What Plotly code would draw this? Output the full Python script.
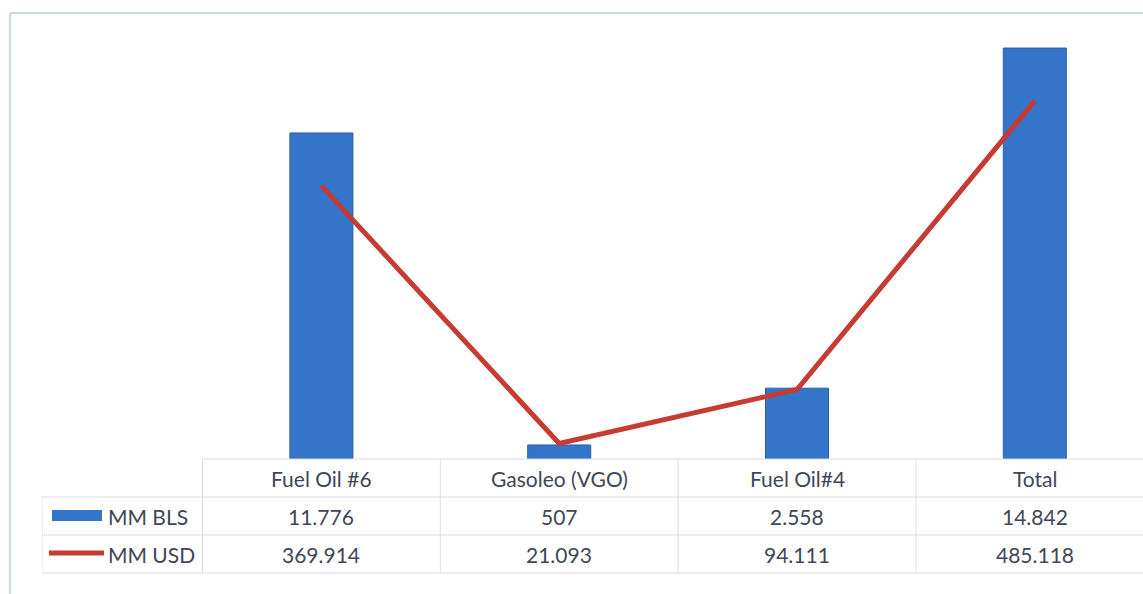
import plotly.graph_objects as go

categories = ["Fuel Oil #6", "Gasoleo (VGO)", "Fuel Oil#4", "Total"]
mm_bls = [11.776, 0.507, 2.558, 14.842]
mm_usd = [369.914, 21.093, 94.111, 485.118]
bls_labels = ["11.776", "507", "2.558", "14.842"]
usd_labels = ["369.914", "21.093", "94.111", "485.118"]
series_names = ["MM BLS", "MM USD"]

W, H = 1143, 594
L, R, T, B = 42, 0, 16, 135
PH = H - T - B  # plot height in px
ZERO_PX = H - B


def py(px):
    """pixel y -> paper y"""
    return (ZERO_PX - px) / PH


def pxx(px):
    return (px - L) / (W - L - R)


BLUE = "#3474c9"
RED = "#c63b33"
GRID = "#d9dde4"
TXT = "#3f4757"
FONT = "Lato"
FS = 21

fig = go.Figure()
fig.add_trace(go.Bar(x=categories, y=mm_bls, name=series_names[0], width=0.265,
                     marker=dict(color=BLUE, line=dict(color="#2a5fae", width=1)),
                     yaxis="y"))
fig.add_trace(go.Scatter(x=categories, y=mm_usd, name=series_names[1], mode="lines",
                         line=dict(color=RED, width=5), yaxis="y2"))

shapes = []
ncat = len(categories)
left_x = -1.175
right_x = ncat - 0.5
shapes.append(dict(type="line", xref="x", yref="paper", x0=-0.5, x1=right_x + 1,
                   y0=py(459), y1=py(459), line=dict(color=GRID, width=1)))
for ypx in (497, 535, 573):
    shapes.append(dict(type="line", xref="x", yref="paper", x0=left_x, x1=right_x + 1,
                       y0=py(ypx), y1=py(ypx), line=dict(color=GRID, width=1)))
shapes.append(dict(type="line", xref="x", yref="paper", x0=left_x, x1=left_x,
                   y0=py(497), y1=py(573), line=dict(color=GRID, width=1)))
for i in range(ncat + 1):
    shapes.append(dict(type="line", xref="x", yref="paper", x0=i - 0.5, x1=i - 0.5,
                       y0=py(459), y1=py(573), line=dict(color=GRID, width=1)))
# legend keys
shapes.append(dict(type="rect", xref="paper", yref="paper", x0=pxx(52), x1=pxx(102),
                   y0=py(521), y1=py(510), fillcolor=BLUE, line=dict(width=0)))
shapes.append(dict(type="line", xref="paper", yref="paper", x0=pxx(49), x1=pxx(104),
                   y0=py(553), y1=py(553), line=dict(color=RED, width=5)))
# outer chart border (top and left)
shapes.append(dict(type="line", xref="paper", yref="paper", x0=pxx(10), x1=pxx(1143),
                   y0=py(13), y1=py(13), line=dict(color="#c9d8f0", width=2)))
shapes.append(dict(type="line", xref="paper", yref="paper", x0=pxx(10), x1=pxx(10),
                   y0=py(13), y1=py(594), line=dict(color="#c9d8f0", width=2)))

annotations = []
font = dict(family=FONT, size=FS, color=TXT)
for i, c in enumerate(categories):
    for txt, ypx in ((c, 478), (bls_labels[i], 516), (usd_labels[i], 554)):
        annotations.append(dict(x=c, y=py(ypx), xref="x", yref="paper", text=txt,
                                showarrow=False, xanchor="center", yanchor="middle",
                                font=font))
for name, ypx in zip(series_names, (516, 554)):
    annotations.append(dict(x=pxx(106), y=py(ypx), xref="paper", yref="paper", text=name,
                            xanchor="left", yanchor="middle", showarrow=False, font=font))

fig.update_layout(
    width=W, height=H,
    margin=dict(l=L, r=R, t=T, b=B),
    paper_bgcolor="white", plot_bgcolor="white",
    showlegend=False,
    xaxis=dict(type="category", range=[left_x, 3.455], showticklabels=False,
               showgrid=False, zeroline=False, showline=False, ticks=""),
    yaxis=dict(range=[0, 16], visible=False, showgrid=False),
    yaxis2=dict(range=[0, 600], overlaying="y", side="right", visible=False, showgrid=False),
    shapes=shapes, annotations=annotations,
    hovermode=False,
)
fig.write_html("out.html")
